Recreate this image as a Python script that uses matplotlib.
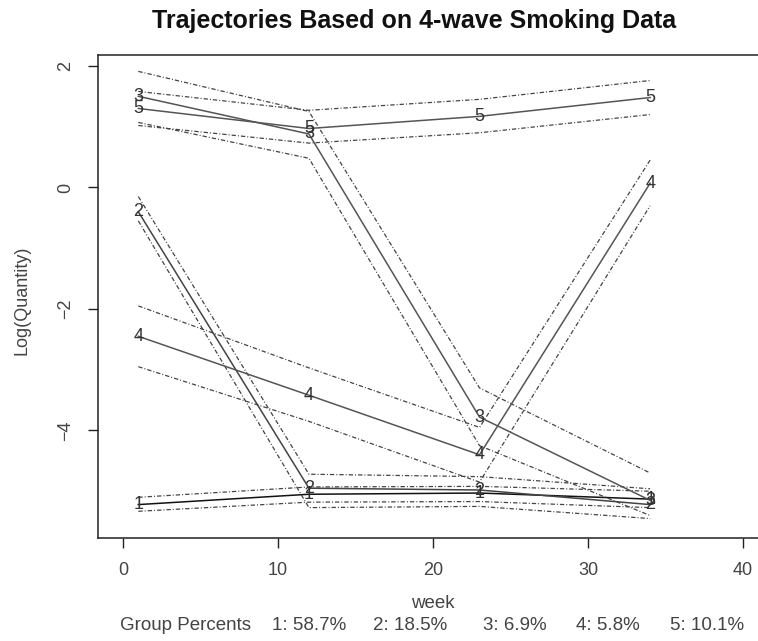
import matplotlib.pyplot as plt

plt.rcParams['font.family'] = ['Liberation Sans', 'DejaVu Sans']

weeks = [1, 12, 23, 34]
groups = ['1', '2', '3', '4', '5']

# mean trajectories
mean_1 = [-5.22, -5.05, -5.03, -5.13]
mean_2 = [-0.40, -4.95, -4.98, -5.22]
mean_3 = [1.50, 0.88, -3.78, -5.15]
mean_4 = [-2.45, -3.42, -4.40, 0.07]
mean_5 = [1.30, 0.97, 1.17, 1.48]

# confidence bands (upper / lower)
upper_1 = [-5.10, -4.93, -4.92, -5.00]
lower_1 = [-5.33, -5.18, -5.17, -5.27]
upper_2 = [-0.15, -4.72, -4.76, -4.96]
lower_2 = [-0.55, -5.27, -5.25, -5.45]
upper_3 = [1.91, 1.25, -3.30, -4.70]
lower_3 = [1.07, 0.48, -4.25, -5.40]
upper_4 = [-1.95, -2.97, -3.95, 0.45]
lower_4 = [-2.95, -3.85, -4.85, -0.30]
upper_5 = [1.58, 1.27, 1.45, 1.76]
lower_5 = [1.02, 0.73, 0.90, 1.20]

percent_labels = ['1: 58.7%', '2: 18.5%', '3: 6.9%', '4: 5.8%', '5: 10.1%']

means = [mean_1, mean_2, mean_3, mean_4, mean_5]
uppers = [upper_1, upper_2, upper_3, upper_4, upper_5]
lowers = [lower_1, lower_2, lower_3, lower_4, lower_5]
line_cols = ['#111111', '#444444', '#555555', '#555555', '#555555']

W, H = 758, 641
fig = plt.figure(figsize=(W / 100, H / 100), dpi=100)
ax = fig.add_axes([98 / W, 1 - 538 / H, 670 / W, 483 / H])

dash = (0, (3.5, 1.6, 0.8, 1.6))
for m, u, l, g, c in zip(means, uppers, lowers, groups, line_cols):
    ax.plot(weeks, u, color='#444444', lw=0.9, linestyle=dash)
    ax.plot(weeks, l, color='#444444', lw=0.9, linestyle=dash)
    ax.plot(weeks, m, color=c, lw=1.1)
    for x, y in zip(weeks, m):
        ax.text(x, y, g, ha='center', va='center', fontsize=13, color='#333333')

ax.set_xlim(-1.6, 41.6)
ax.set_ylim(-5.77, 2.18)
ax.set_xticks([0, 10, 20, 30, 40])
ax.set_yticks([-4, -2, 0, 2])
ax.tick_params(axis='both', labelsize=13, colors='#222222', labelcolor='#444444',
               length=7, width=1, pad=10)
for lbl in ax.get_yticklabels():
    lbl.set_rotation(90)
    lbl.set_va('center')
for s in ax.spines.values():
    s.set_color('#222222')
    s.set_linewidth(1.1)
ax.spines['right'].set_visible(False)

fig.text(414 / W, 1 - 21 / H, 'Trajectories Based on 4-wave Smoking Data',
         ha='center', va='center', fontsize=18, fontweight='bold', color='#111111')
fig.text(22 / W, 1 - 300 / H, 'Log(Quantity)', rotation=90, ha='center', va='center',
         fontsize=13, color='#444444')
fig.text(433 / W, 1 - 604 / H, 'week', ha='center', va='center', fontsize=13.5, color='#444444')

fig.text(185 / W, 1 - 625 / H, 'Group Percents', ha='center', va='center',
         fontsize=13.5, color='#444444')
centers = [309, 410, 515, 608, 707]
for cx, t in zip(centers, percent_labels):
    fig.text(cx / W, 1 - 625 / H, t, ha='center', va='center', fontsize=13.5, color='#444444')

fig.savefig('out.png', dpi=100)
